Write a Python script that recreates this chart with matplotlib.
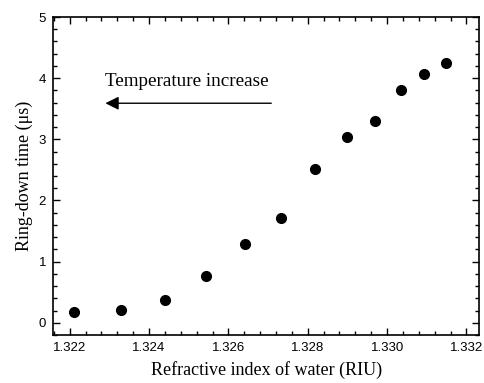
import numpy as np
import matplotlib.pyplot as plt
from matplotlib.ticker import MultipleLocator

# Refractive index (RIU) vs ring-down time (us)
riu = [1.32212, 1.32330, 1.32440, 1.32544, 1.32643, 1.32733,
       1.32819, 1.32898, 1.32969, 1.33034, 1.33094, 1.33148]
ringdown = [0.17, 0.21, 0.38, 0.76, 1.29, 1.72,
            2.52, 3.04, 3.30, 3.80, 4.06, 4.24]

serif = ['Liberation Serif', 'DejaVu Serif']
sans = ['Liberation Sans', 'DejaVu Sans']

fig = plt.figure(figsize=(4.84, 3.83), dpi=100)
ax = fig.add_axes([0.1095, 0.1253, 0.8805, 0.8303])

ax.plot(riu, ringdown, 'o', color='black', markersize=7, zorder=3)

ax.set_xlim(1.32158, 1.33232)
ax.set_ylim(-0.2, 5)
ax.xaxis.set_major_locator(MultipleLocator(0.002))
ax.xaxis.set_minor_locator(MultipleLocator(0.0004))
ax.yaxis.set_major_locator(MultipleLocator(1))
ax.yaxis.set_minor_locator(MultipleLocator(0.2))
ax.xaxis.set_major_formatter(plt.FuncFormatter(lambda v, p: f"{v:.3f}"))

ax.tick_params(which='both', direction='in', top=True, right=True,
               labelsize=9.5, width=1.0, pad=5)
ax.tick_params(which='major', length=5)
ax.tick_params(which='minor', length=3)
for lab in ax.get_xticklabels() + ax.get_yticklabels():
    lab.set_family(sans)
for s in ax.spines.values():
    s.set_linewidth(1.2)

ax.set_xlabel("Refractive index of water (RIU)", family=serif, fontsize=13, labelpad=5)
ax.set_ylabel("Ring-down time (\u03bcs)", family=serif, fontsize=13, labelpad=4)

ax.text(1.3229, 3.94, "Temperature increase", family=serif, fontsize=13.8,
        ha='left', va='center')
ax.annotate("", xy=(1.3229, 3.59), xytext=(1.32708, 3.59),
            arrowprops=dict(arrowstyle='-|>', color='black', lw=1.0,
                            mutation_scale=20, shrinkA=0, shrinkB=0))

plt.savefig("out.png", dpi=100)
